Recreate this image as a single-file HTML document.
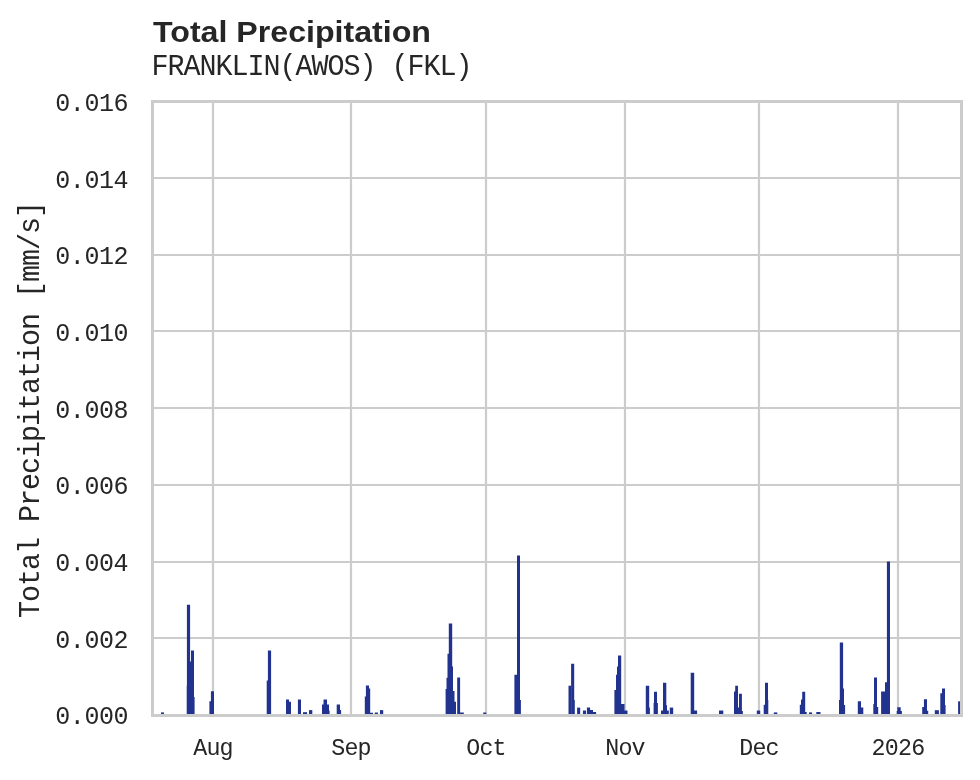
<!DOCTYPE html>
<html><head><meta charset="utf-8">
<style>
html,body{margin:0;padding:0;background:#fff;width:980px;height:780px;overflow:hidden}
svg{display:block}
text{filter:grayscale(1)}
.mono{font-family:"Liberation Mono",monospace;fill:#262626}
.title{font-family:"Liberation Sans",sans-serif;font-weight:bold;fill:#262626}
</style></head><body>
<svg width="980" height="780" viewBox="0 0 980 780">
<rect x="0" y="0" width="980" height="780" fill="#fff"/>
<g stroke="#cccccc" stroke-width="2.22" fill="none">
<line x1="213" y1="101.5" x2="213" y2="715.5"/>
<line x1="351" y1="101.5" x2="351" y2="715.5"/>
<line x1="486" y1="101.5" x2="486" y2="715.5"/>
<line x1="625" y1="101.5" x2="625" y2="715.5"/>
<line x1="759" y1="101.5" x2="759" y2="715.5"/>
<line x1="898" y1="101.5" x2="898" y2="715.5"/>
<line x1="152.5" y1="178.00" x2="961.5" y2="178.00"/>
<line x1="152.5" y1="255.00" x2="961.5" y2="255.00"/>
<line x1="152.5" y1="331.00" x2="961.5" y2="331.00"/>
<line x1="152.5" y1="408.00" x2="961.5" y2="408.00"/>
<line x1="152.5" y1="485.00" x2="961.5" y2="485.00"/>
<line x1="152.5" y1="562.00" x2="961.5" y2="562.00"/>
<line x1="152.5" y1="638.00" x2="961.5" y2="638.00"/>
</g>
<g fill="#22338f" stroke="none">
<path d="M161.00,716.0 L161.00,712.4 L164.00,712.4 L164.00,716.0Z"/>
<path d="M186.70,716.0 L186.70,685.7 L186.90,685.7 L186.90,604.7 L188.00,604.7 L188.00,604.7 L190.00,604.7 L190.00,604.7 L190.10,604.7 L190.10,661.4 L191.00,661.4 L191.00,650.5 L194.00,650.5 L194.00,697.0 L194.60,697.0 L194.60,716.0Z"/>
<path d="M209.40,716.0 L209.40,701.2 L210.90,701.2 L210.90,691.2 L211.00,691.2 L211.00,691.2 L214.00,691.2 L214.00,716.0Z"/>
<path d="M266.70,716.0 L266.70,680.5 L267.90,680.5 L267.90,650.5 L268.00,650.5 L268.00,650.5 L271.10,650.5 L271.10,716.0Z"/>
<path d="M286.00,716.0 L286.00,699.5 L289.00,699.5 L289.00,701.8 L291.00,701.8 L291.00,716.0Z"/>
<path d="M297.90,716.0 L297.90,699.5 L301.00,699.5 L301.00,716.0Z"/>
<path d="M303.00,716.0 L303.00,712.2 L307.10,712.2 L307.10,716.0Z"/>
<path d="M309.00,716.0 L309.00,710.1 L312.30,710.1 L312.30,716.0Z"/>
<path d="M322.00,716.0 L322.00,704.4 L323.50,704.4 L323.50,699.5 L327.00,699.5 L327.00,704.4 L329.00,704.4 L329.00,710.5 L329.60,710.5 L329.60,716.0Z"/>
<path d="M336.70,716.0 L336.70,704.4 L340.00,704.4 L340.00,710.0 L341.10,710.0 L341.10,716.0Z"/>
<path d="M364.80,716.0 L364.80,696.6 L365.90,696.6 L365.90,685.4 L366.00,685.4 L366.00,685.4 L368.50,685.4 L368.50,685.4 L369.00,685.4 L369.00,688.5 L370.00,688.5 L370.00,688.5 L370.20,688.5 L370.20,712.8 L373.00,712.8 L373.00,716.0Z"/>
<path d="M374.80,716.0 L374.80,712.5 L377.90,712.5 L377.90,716.0Z"/>
<path d="M380.00,716.0 L380.00,710.1 L383.20,710.1 L383.20,716.0Z"/>
<path d="M445.60,716.0 L445.60,689.0 L446.50,689.0 L446.50,677.7 L447.00,677.7 L447.00,677.7 L447.50,677.7 L447.50,653.7 L448.00,653.7 L448.00,653.7 L448.80,653.7 L448.80,623.4 L449.00,623.4 L449.00,623.4 L452.00,623.4 L452.00,623.4 L452.20,623.4 L452.20,666.4 L453.00,666.4 L453.00,691.0 L454.50,691.0 L454.50,701.7 L456.00,701.7 L456.00,716.0Z"/>
<path d="M457.20,716.0 L457.20,677.6 L460.00,677.6 L460.00,677.6 L460.10,677.6 L460.10,712.5 L463.80,712.5 L463.80,716.0Z"/>
<path d="M483.20,716.0 L483.20,712.5 L486.30,712.5 L486.30,716.0Z"/>
<path d="M514.40,716.0 L514.40,674.7 L517.00,674.7 L517.00,555.5 L520.00,555.5 L520.00,700.0 L520.90,700.0 L520.90,716.0Z"/>
<path d="M568.50,716.0 L568.50,685.7 L571.00,685.7 L571.00,716.0Z"/>
<path d="M571.10,716.0 L571.10,663.8 L574.20,663.8 L574.20,700.0 L574.80,700.0 L574.80,716.0Z"/>
<path d="M577.10,716.0 L577.10,707.6 L580.20,707.6 L580.20,716.0Z"/>
<path d="M582.90,716.0 L582.90,710.5 L586.00,710.5 L586.00,716.0Z"/>
<path d="M586.90,716.0 L586.90,707.6 L590.00,707.6 L590.00,707.6 L590.10,707.6 L590.10,710.0 L593.00,710.0 L593.00,712.0 L596.10,712.0 L596.10,716.0Z"/>
<path d="M614.40,716.0 L614.40,690.0 L616.00,690.0 L616.00,674.7 L617.00,674.7 L617.00,666.6 L618.00,666.6 L618.00,655.5 L621.00,655.5 L621.00,655.5 L621.20,655.5 L621.20,704.1 L624.50,704.1 L624.50,710.5 L627.50,710.5 L627.50,716.0Z"/>
<path d="M645.80,716.0 L645.80,685.7 L649.20,685.7 L649.20,707.6 L649.90,707.6 L649.90,716.0Z"/>
<path d="M653.60,716.0 L653.60,703.0 L654.00,703.0 L654.00,691.7 L654.30,691.7 L654.30,691.7 L656.70,691.7 L656.70,691.7 L657.00,691.7 L657.00,703.0 L657.90,703.0 L657.90,716.0Z"/>
<path d="M661.00,716.0 L661.00,710.5 L663.00,710.5 L663.00,682.8 L666.00,682.8 L666.00,682.8 L666.30,682.8 L666.30,705.3 L667.00,705.3 L667.00,710.5 L668.80,710.5 L668.80,716.0Z"/>
<path d="M669.80,716.0 L669.80,707.6 L673.20,707.6 L673.20,716.0Z"/>
<path d="M690.70,716.0 L690.70,672.8 L694.20,672.8 L694.20,710.5 L697.10,710.5 L697.10,716.0Z"/>
<path d="M719.00,716.0 L719.00,710.5 L723.30,710.5 L723.30,716.0Z"/>
<path d="M734.00,716.0 L734.00,691.4 L735.20,691.4 L735.20,685.7 L738.00,685.7 L738.00,707.6 L739.00,707.6 L739.00,693.7 L741.90,693.7 L741.90,711.0 L742.90,711.0 L742.90,716.0Z"/>
<path d="M756.80,716.0 L756.80,710.5 L760.20,710.5 L760.20,716.0Z"/>
<path d="M763.70,716.0 L763.70,704.7 L765.00,704.7 L765.00,682.8 L768.00,682.8 L768.00,700.0 L768.30,700.0 L768.30,716.0Z"/>
<path d="M773.80,716.0 L773.80,712.4 L777.30,712.4 L777.30,716.0Z"/>
<path d="M799.80,716.0 L799.80,704.7 L801.00,704.7 L801.00,699.5 L802.20,699.5 L802.20,691.7 L805.20,691.7 L805.20,712.0 L806.70,712.0 L806.70,716.0Z"/>
<path d="M809.00,716.0 L809.00,712.4 L812.10,712.4 L812.10,716.0Z"/>
<path d="M816.30,716.0 L816.30,712.0 L820.50,712.0 L820.50,716.0Z"/>
<path d="M839.00,716.0 L839.00,700.0 L839.80,700.0 L839.80,642.4 L843.00,642.4 L843.00,642.4 L843.10,642.4 L843.10,688.6 L844.00,688.6 L844.00,705.0 L845.10,705.0 L845.10,716.0Z"/>
<path d="M857.80,716.0 L857.80,701.2 L861.00,701.2 L861.00,707.6 L863.30,707.6 L863.30,716.0Z"/>
<path d="M873.30,716.0 L873.30,704.0 L874.00,704.0 L874.00,677.4 L877.00,677.4 L877.00,707.0 L878.20,707.0 L878.20,716.0Z"/>
<path d="M881.10,716.0 L881.10,691.4 L885.00,691.4 L885.00,682.2 L886.90,682.2 L886.90,561.4 L890.00,561.4 L890.00,716.0Z"/>
<path d="M896.70,716.0 L896.70,711.0 L897.30,711.0 L897.30,707.2 L897.40,707.2 L897.40,707.2 L900.60,707.2 L900.60,707.2 L900.70,707.2 L900.70,711.0 L901.90,711.0 L901.90,716.0Z"/>
<path d="M922.20,716.0 L922.20,707.1 L923.90,707.1 L923.90,699.2 L927.00,699.2 L927.00,710.7 L928.20,710.7 L928.20,716.0Z"/>
<path d="M934.80,716.0 L934.80,710.2 L938.90,710.2 L938.90,716.0Z"/>
<path d="M940.30,716.0 L940.30,693.3 L942.00,693.3 L942.00,688.4 L945.00,688.4 L945.00,705.0 L945.60,705.0 L945.60,716.0Z"/>
<path d="M958.10,716.0 L958.10,701.3 L961.00,701.3 L961.00,716.0Z"/>
</g>
<rect x="152.5" y="101.5" width="809" height="614" fill="none" stroke="#cccccc" stroke-width="3"/>
<text class="title" x="153" y="41.8" font-size="29" textLength="278" lengthAdjust="spacingAndGlyphs">Total Precipitation</text>
<text class="mono" transform="translate(151.6,74.6) scale(1,1.01)" font-size="28.4" letter-spacing="-1.04">FRANKLIN(AWOS) (FKL)</text>
<g class="mono" font-size="25" letter-spacing="-0.42">
<text x="128.2" y="110.90" text-anchor="end">0.016</text>
<text x="128.2" y="187.57" text-anchor="end">0.014</text>
<text x="128.2" y="264.24" text-anchor="end">0.012</text>
<text x="128.2" y="340.91" text-anchor="end">0.010</text>
<text x="128.2" y="417.58" text-anchor="end">0.008</text>
<text x="128.2" y="494.25" text-anchor="end">0.006</text>
<text x="128.2" y="570.92" text-anchor="end">0.004</text>
<text x="128.2" y="647.59" text-anchor="end">0.002</text>
<text x="128.2" y="724.26" text-anchor="end">0.000</text>
</g>
<g class="mono" font-size="23.3" letter-spacing="-0.78">
<text x="213" y="754.7" text-anchor="middle">Aug</text>
<text x="351" y="754.7" text-anchor="middle">Sep</text>
<text x="486" y="754.7" text-anchor="middle">Oct</text>
<text x="625" y="754.7" text-anchor="middle">Nov</text>
<text x="759" y="754.7" text-anchor="middle">Dec</text>
<text x="898" y="754.7" text-anchor="middle">2026</text>
</g>
<text class="mono" font-size="28.4" letter-spacing="-1.04" transform="translate(38.85,410) rotate(-90) scale(1,1.01)" text-anchor="middle">Total Precipitation [mm/s]</text>
</svg>
</body></html>
